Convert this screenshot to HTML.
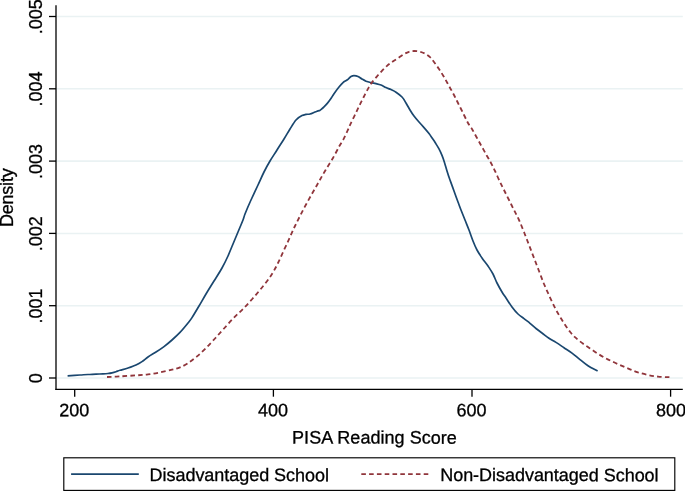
<!DOCTYPE html>
<html><head><meta charset="utf-8"><title>Kernel density</title>
<style>
html,body{margin:0;padding:0;background:#fff;}
body{width:685px;height:491px;overflow:hidden;}
svg{display:block;}
text{font-family:"Liberation Sans",Arial,Helvetica,sans-serif;font-size:18px;fill:#000;stroke:#000;stroke-width:0.3px;}
</style></head><body>
<svg width="685" height="491" viewBox="0 0 685 491">
<rect x="0" y="0" width="685" height="491" fill="#ffffff"/>
<line x1="56.0" y1="378.0" x2="682.8" y2="378.0" stroke="#eaf2f3" stroke-width="1.55"/>
<line x1="56.0" y1="305.7" x2="682.8" y2="305.7" stroke="#eaf2f3" stroke-width="1.55"/>
<line x1="56.0" y1="233.4" x2="682.8" y2="233.4" stroke="#eaf2f3" stroke-width="1.55"/>
<line x1="56.0" y1="161.1" x2="682.8" y2="161.1" stroke="#eaf2f3" stroke-width="1.55"/>
<line x1="56.0" y1="88.8" x2="682.8" y2="88.8" stroke="#eaf2f3" stroke-width="1.55"/>
<line x1="56.0" y1="16.5" x2="682.8" y2="16.5" stroke="#eaf2f3" stroke-width="1.55"/>
<path d="M67.6 375.8C69.7 375.7 76.6 375.2 80.0 375.0C83.4 374.8 85.3 374.6 88.0 374.5C90.7 374.4 93.5 374.2 96.0 374.1C98.5 374.0 101.0 374.0 103.0 373.9C105.0 373.8 106.5 373.7 108.0 373.5C109.5 373.3 110.7 373.1 112.0 372.8C113.3 372.5 114.7 372.1 116.0 371.7C117.3 371.3 118.0 370.9 120.0 370.3C122.0 369.7 125.3 368.9 128.0 368.0C130.7 367.1 133.7 366.1 136.0 365.0C138.3 363.9 140.0 362.9 142.0 361.6C144.0 360.3 145.7 358.6 148.0 357.0C150.3 355.4 153.3 353.7 156.0 352.0C158.7 350.3 161.3 348.6 164.0 346.6C166.7 344.6 169.3 342.4 172.0 340.0C174.7 337.6 177.3 335.2 180.0 332.4C182.7 329.6 186.0 325.5 188.0 323.0C190.0 320.5 190.2 320.4 192.0 317.6C193.8 314.8 196.7 309.9 199.0 306.0C201.3 302.1 203.5 298.2 206.0 294.0C208.5 289.8 211.3 285.3 214.0 281.0C216.7 276.7 219.7 272.2 222.0 268.0C224.3 263.8 226.2 260.0 228.0 256.0C229.8 252.0 231.3 248.0 233.0 244.0C234.7 240.0 236.3 236.0 238.0 232.0C239.7 228.0 241.8 223.0 243.0 220.0C244.2 217.0 243.7 217.3 245.0 214.0C246.3 210.7 248.8 204.8 251.0 200.0C253.2 195.2 255.8 189.7 258.0 185.0C260.2 180.3 262.0 176.0 264.0 172.0C266.0 168.0 267.8 164.7 270.0 161.0C272.2 157.3 274.7 153.7 277.0 150.0C279.3 146.3 281.8 142.5 284.0 139.0C286.2 135.5 288.0 132.2 290.0 129.0C292.0 125.8 294.0 122.2 296.0 120.0C298.0 117.8 300.3 116.5 302.0 115.6C303.7 114.7 304.7 114.7 306.0 114.4C307.3 114.1 308.5 114.4 310.0 114.0C311.5 113.6 313.7 112.5 315.0 112.0C316.3 111.5 317.2 111.2 318.0 110.9C318.8 110.6 319.2 110.7 319.8 110.4C320.4 110.1 320.8 109.8 321.5 109.2C322.2 108.6 323.0 107.9 324.0 106.9C325.0 105.9 326.2 104.7 327.3 103.4C328.4 102.1 329.3 100.9 330.4 99.3C331.5 97.7 332.6 95.8 334.0 93.7C335.4 91.7 337.5 88.8 339.0 87.0C340.5 85.2 341.7 83.8 343.0 82.6C344.3 81.4 345.7 81.0 347.0 80.0C348.3 79.0 349.8 77.3 351.0 76.6C352.2 75.9 352.8 75.6 354.0 75.6C355.2 75.6 356.7 75.8 358.0 76.4C359.3 77.0 360.7 78.2 362.0 79.0C363.3 79.8 364.5 80.6 366.0 81.2C367.5 81.8 369.3 82.2 371.0 82.6C372.7 83.0 374.3 83.2 376.0 83.6C377.7 84.0 379.3 84.3 381.0 85.0C382.7 85.7 384.3 86.8 386.0 87.6C387.7 88.4 389.3 88.8 391.0 89.6C392.7 90.4 394.2 91.0 396.0 92.2C397.8 93.4 400.3 95.2 402.0 97.0C403.7 98.8 404.7 100.8 406.0 103.0C407.3 105.2 408.7 107.8 410.0 110.0C411.3 112.2 412.5 114.0 414.0 116.0C415.5 118.0 417.3 120.1 419.0 122.0C420.7 123.9 422.3 125.7 424.0 127.6C425.7 129.5 427.5 131.6 429.0 133.6C430.5 135.6 431.8 137.6 433.0 139.3C434.2 141.0 435.0 142.3 436.0 143.9C437.0 145.5 438.0 147.0 439.0 148.9C440.0 150.8 441.1 153.2 442.0 155.4C442.9 157.6 443.6 159.6 444.4 162.2C445.2 164.8 446.1 168.0 447.0 171.0C447.9 174.0 448.8 176.7 450.0 180.0C451.2 183.3 452.7 187.3 454.0 191.0C455.3 194.7 456.8 198.8 458.0 202.0C459.2 205.2 459.8 207.0 461.0 210.0C462.2 213.0 463.7 216.7 465.0 220.0C466.3 223.3 467.7 226.5 469.0 230.0C470.3 233.5 471.7 237.7 473.0 241.0C474.3 244.3 475.5 247.2 477.0 250.0C478.5 252.8 480.2 255.3 482.0 258.0C483.8 260.7 486.2 263.3 488.0 266.0C489.8 268.7 491.5 271.2 493.0 274.0C494.5 276.8 495.5 280.0 497.0 283.0C498.5 286.0 500.5 289.5 502.0 292.0C503.5 294.5 504.3 295.5 506.0 298.0C507.7 300.5 510.0 304.3 512.0 307.0C514.0 309.7 516.0 312.1 518.0 314.0C520.0 315.9 522.0 317.1 524.0 318.6C526.0 320.2 528.0 321.7 530.0 323.3C532.0 324.9 534.0 326.9 536.0 328.5C538.0 330.1 539.8 331.4 542.0 333.0C544.2 334.6 546.7 336.7 549.0 338.3C551.3 339.9 553.5 340.8 556.0 342.4C558.5 344.0 561.3 345.9 564.0 347.7C566.7 349.5 569.3 351.1 572.0 353.1C574.7 355.1 577.3 357.5 580.0 359.6C582.7 361.7 585.1 363.9 588.0 365.8C590.9 367.7 596.0 370.1 597.6 371.0" fill="none" stroke="#1a476f" stroke-width="1.7" stroke-linejoin="round"/>
<path d="M107.0 377.0C109.2 376.9 115.2 376.7 120.0 376.4C124.8 376.1 131.3 375.7 136.0 375.4C140.7 375.1 144.0 374.9 148.0 374.4C152.0 373.9 156.0 373.2 160.0 372.4C164.0 371.6 168.7 370.5 172.0 369.7C175.3 368.9 177.3 368.5 180.0 367.4C182.7 366.3 185.2 365.0 188.0 363.2C190.8 361.4 194.0 358.9 197.0 356.4C200.0 353.9 203.0 351.0 206.0 348.0C209.0 345.0 212.0 341.8 215.0 338.5C218.0 335.2 220.8 332.0 224.0 328.5C227.2 325.0 230.7 321.0 234.0 317.6C237.3 314.2 240.7 311.4 244.0 308.0C247.3 304.6 250.7 300.8 254.0 297.0C257.3 293.2 261.0 288.8 264.0 285.0C267.0 281.2 269.7 277.7 272.0 274.0C274.3 270.3 276.0 267.0 278.0 263.0C280.0 259.0 282.0 254.3 284.0 250.0C286.0 245.7 288.2 241.0 290.0 237.0C291.8 233.0 293.3 229.5 295.0 226.0C296.7 222.5 298.1 219.7 300.0 216.0C301.9 212.3 304.1 208.0 306.3 204.0C308.5 200.0 310.8 195.8 313.0 192.0C315.2 188.2 317.2 184.7 319.3 181.0C321.4 177.3 323.3 173.8 325.6 170.0C327.9 166.2 330.7 162.0 333.0 158.0C335.3 154.0 337.7 149.1 339.4 146.0C341.1 142.9 341.9 142.2 343.3 139.6C344.7 137.0 346.5 133.0 347.6 130.5C348.8 128.0 349.1 126.9 350.2 124.6C351.3 122.3 352.7 119.4 354.0 116.8C355.3 114.2 356.6 111.5 357.8 108.9C359.1 106.3 360.2 103.9 361.5 101.4C362.8 98.9 364.1 96.1 365.3 93.8C366.5 91.5 367.7 89.4 368.8 87.4C369.9 85.5 370.8 83.9 372.2 82.1C373.6 80.3 375.4 78.3 377.0 76.4C378.6 74.5 380.3 72.6 382.0 70.8C383.7 69.0 385.3 67.3 387.0 65.8C388.7 64.3 390.2 63.3 392.0 62.0C393.8 60.7 396.0 59.5 398.0 58.2C400.0 56.9 402.2 55.2 404.0 54.1C405.8 53.0 407.3 52.3 409.0 51.8C410.7 51.3 412.2 51.0 414.0 51.0C415.8 51.0 418.2 51.3 420.0 51.7C421.8 52.1 423.3 52.7 425.0 53.6C426.7 54.5 428.5 55.8 430.0 57.2C431.5 58.6 432.5 60.0 434.0 62.0C435.5 64.0 437.3 66.5 439.0 69.0C440.7 71.5 442.3 74.2 444.0 77.0C445.7 79.8 447.3 83.0 449.0 86.0C450.7 89.0 452.3 91.8 454.0 95.0C455.7 98.2 457.3 101.7 459.0 105.0C460.7 108.3 462.5 112.0 464.0 115.0C465.5 118.0 466.7 120.7 468.0 123.0C469.3 125.3 470.5 126.5 472.0 129.0C473.5 131.5 475.3 135.0 477.0 138.0C478.7 141.0 480.3 144.0 482.0 147.0C483.7 150.0 485.5 153.3 487.0 156.0C488.5 158.7 489.7 160.5 491.0 163.0C492.3 165.5 493.5 167.8 495.0 171.0C496.5 174.2 498.5 178.8 500.0 182.0C501.5 185.2 502.5 187.0 504.0 190.0C505.5 193.0 507.3 196.7 509.0 200.0C510.7 203.3 512.3 206.7 514.0 210.0C515.7 213.3 517.3 216.3 519.0 220.0C520.7 223.7 522.3 227.8 524.0 232.0C525.7 236.2 527.3 240.7 529.0 245.0C530.7 249.3 532.3 253.7 534.0 258.0C535.7 262.3 537.3 266.7 539.0 271.0C540.7 275.3 542.3 280.0 544.0 284.0C545.7 288.0 547.2 291.2 549.0 295.2C550.8 299.2 553.2 304.3 555.0 307.9C556.8 311.5 558.3 314.0 560.0 316.8C561.7 319.6 563.3 322.3 565.0 324.8C566.7 327.3 568.3 329.7 570.0 331.8C571.7 333.9 573.0 335.4 575.0 337.2C577.0 339.0 579.5 341.0 582.0 342.9C584.5 344.8 587.3 346.6 590.0 348.4C592.7 350.2 595.3 352.1 598.0 353.8C600.7 355.5 603.3 357.0 606.0 358.4C608.7 359.8 611.3 361.1 614.0 362.3C616.7 363.6 619.3 364.7 622.0 365.9C624.7 367.1 627.3 368.2 630.0 369.3C632.7 370.4 635.0 371.4 638.0 372.4C641.0 373.3 644.7 374.3 648.0 375.0C651.3 375.7 654.4 376.2 658.0 376.6C661.6 377.0 667.5 377.1 669.4 377.2" fill="none" stroke="#90353b" stroke-width="1.8" stroke-dasharray="4.6 3.175" stroke-linejoin="round"/>
<line x1="56.0" y1="5.3" x2="56.0" y2="390" stroke="#000" stroke-width="1.3"/>
<line x1="55.4" y1="389.4" x2="682.8" y2="389.4" stroke="#000" stroke-width="1.15"/>
<line x1="49" y1="378.0" x2="56.0" y2="378.0" stroke="#000" stroke-width="1.3"/>
<text transform="translate(41.65 378.2) rotate(-90)" text-anchor="middle">0</text>
<line x1="49" y1="305.7" x2="56.0" y2="305.7" stroke="#000" stroke-width="1.3"/>
<text transform="translate(41.65 305.9) rotate(-90)" text-anchor="middle">.001</text>
<line x1="49" y1="233.4" x2="56.0" y2="233.4" stroke="#000" stroke-width="1.3"/>
<text transform="translate(41.65 233.7) rotate(-90)" text-anchor="middle">.002</text>
<line x1="49" y1="161.1" x2="56.0" y2="161.1" stroke="#000" stroke-width="1.3"/>
<text transform="translate(41.65 161.4) rotate(-90)" text-anchor="middle">.003</text>
<line x1="49" y1="88.8" x2="56.0" y2="88.8" stroke="#000" stroke-width="1.3"/>
<text transform="translate(41.65 89.1) rotate(-90)" text-anchor="middle">.004</text>
<line x1="49" y1="16.5" x2="56.0" y2="16.5" stroke="#000" stroke-width="1.3"/>
<text transform="translate(41.65 16.8) rotate(-90)" text-anchor="middle">.005</text>
<line x1="74.7" y1="389.4" x2="74.7" y2="396.7" stroke="#000" stroke-width="1.3"/>
<text transform="translate(74.2 416.25) rotate(0.03)" text-anchor="middle">200</text>
<line x1="273.4" y1="389.4" x2="273.4" y2="396.7" stroke="#000" stroke-width="1.3"/>
<text transform="translate(272.9 416.25) rotate(0.03)" text-anchor="middle">400</text>
<line x1="472.0" y1="389.4" x2="472.0" y2="396.7" stroke="#000" stroke-width="1.3"/>
<text transform="translate(471.5 416.25) rotate(0.03)" text-anchor="middle">600</text>
<line x1="670.6" y1="389.4" x2="670.6" y2="396.7" stroke="#000" stroke-width="1.3"/>
<text transform="translate(671.0 416.25) rotate(0.03)" text-anchor="middle">800</text>
<text transform="translate(12.9 197.7) rotate(-90)" text-anchor="middle" textLength="58.8" lengthAdjust="spacing">Density</text>
<text transform="translate(374.45 443.6) rotate(0.03)" text-anchor="middle" textLength="164.8" lengthAdjust="spacing">PISA Reading Score</text>
<rect x="63.8" y="457.8" width="611.0" height="32.6" fill="#fff" stroke="#000" stroke-width="1.15"/>
<line x1="71.1" y1="474.2" x2="138.8" y2="474.2" stroke="#1a476f" stroke-width="1.7"/>
<text transform="translate(149.6 481.05) rotate(0.03)" textLength="179.3" lengthAdjust="spacing">Disadvantaged School</text>
<line x1="361.3" y1="474.2" x2="428.6" y2="474.2" stroke="#90353b" stroke-width="1.8" stroke-dasharray="4.6 3.2"/>
<text transform="translate(440.2 481.05) rotate(0.03)" textLength="218.4" lengthAdjust="spacing">Non-Disadvantaged School</text>
</svg>
</body></html>
